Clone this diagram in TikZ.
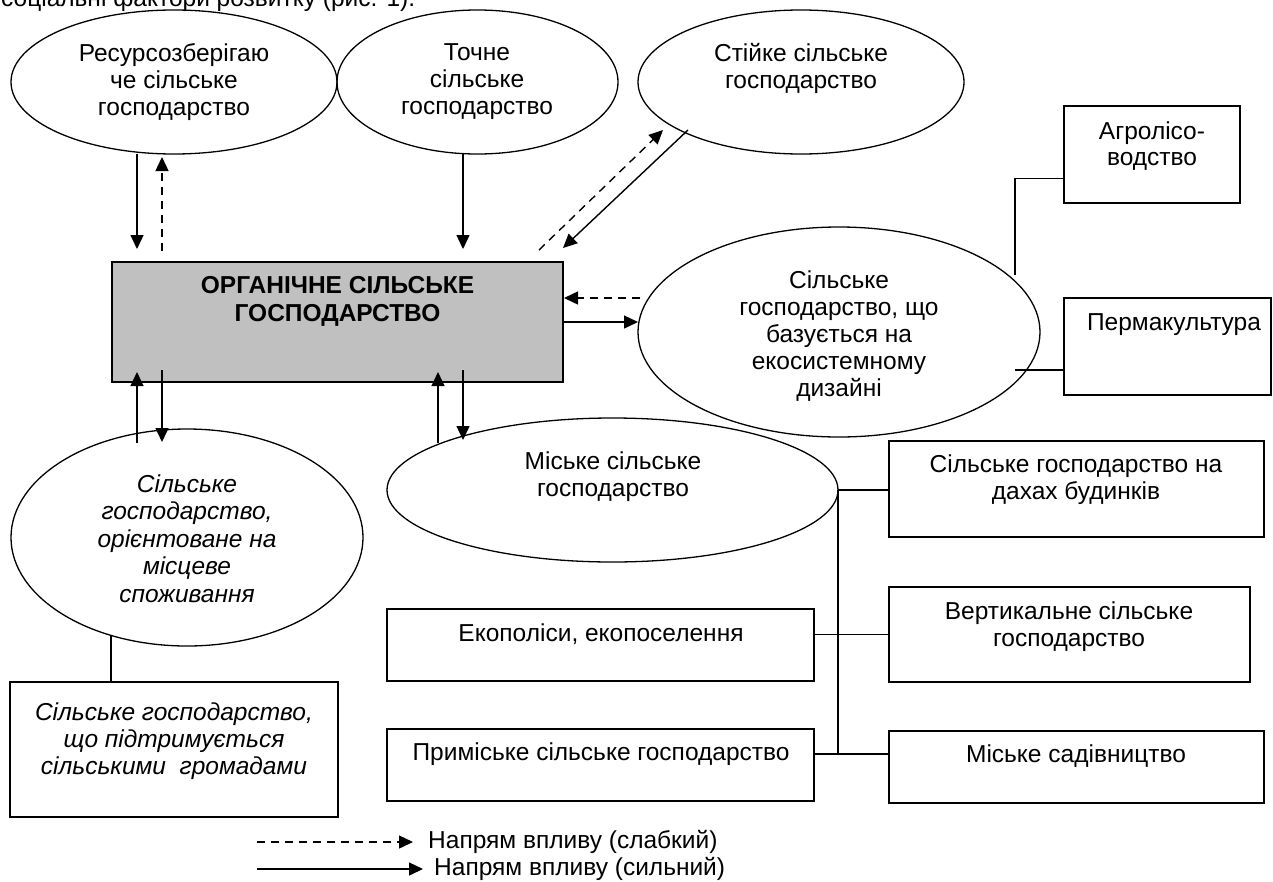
\documentclass[tikz,border=0pt]{standalone}
\usepackage{fontspec}
\setmainfont{Liberation Sans}
\usetikzlibrary{shapes.geometric,arrows.meta,calc}
\begin{document}
\begin{tikzpicture}[x=1pt,y=-1pt,
  ell/.style={draw,ellipse,line width=1.3pt,inner sep=0pt,outer sep=0pt},
  bx/.style={draw,rectangle,line width=1.7pt,inner sep=0pt,outer sep=0pt},
  txt/.style={align=center,inner sep=0pt,font=\fontsize{24.5}{27}\selectfont},
  conn/.style={line width=1.4pt},
  strong/.style={line width=1.4pt,-{Triangle[width=13pt,length=14pt]}},
  weak/.style={strong,dash pattern=on 8pt off 6pt},
]
\useasboundingbox (0,0) rectangle (1273,881);
\clip (0,0) rectangle (1273,881);
\fill[white] (0,0) rectangle (1273,881);

% cut-off caption line at the top
\node[txt,anchor=base west] (cap) at (1,6) {соціальні фактори розвитку (рис. 1).};

% ellipses
\node[ell,minimum width=326pt,minimum height=144pt] (e1) at (174,82) {};
\node[ell,minimum width=281pt,minimum height=144pt] (e2) at (477.5,82) {};
\node[ell,minimum width=326pt,minimum height=144pt] (e3) at (801,82) {};
\node[ell,minimum width=402pt,minimum height=210pt] (e4) at (839,332) {};
\node[ell,minimum width=352pt,minimum height=217pt] (e5) at (187,537.5) {};
\node[ell,minimum width=451pt,minimum height=144pt] (e6) at (612.5,490) {};

% boxes
\node[bx,fill={rgb,255:red,192;green,192;blue,192},minimum width=451pt,minimum height=120pt] (box) at (337.5,322) {};
\node[bx,minimum width=176pt,minimum height=97pt] (agro) at (1152,154.5) {};
\node[bx,minimum width=207pt,minimum height=97pt] (perm) at (1167.5,346.5) {};
\node[bx,minimum width=375pt,minimum height=96pt] (roof) at (1076.5,489) {};
\node[bx,minimum width=361pt,minimum height=95pt] (vert) at (1069.5,634.5) {};
\node[bx,minimum width=427pt,minimum height=72pt] (eko) at (600.5,645) {};
\node[bx,minimum width=427pt,minimum height=72pt] (prim) at (600.5,765) {};
\node[bx,minimum width=375pt,minimum height=72pt] (sad) at (1076.5,767) {};
\node[bx,minimum width=328pt,minimum height=135pt] (csa) at (174,749.5) {};

% texts
\node[txt] (t1) at (174,82) {Ресурсозберігаю\\че сільське\\господарство};
\node[txt] (t2) at (477,82) {Точне\\сільське\\господарство};
\node[txt] (t3) at (801,68.5) {Стійке сільське\\господарство};
\node[txt] (t4) at (839,336) {Сільське\\господарство, що\\базується на\\екосистемному\\дизайні};
\node[txt,font=\fontsize{24.5}{27.5}\selectfont\itshape] (t5) at (187,538.5) {Сільське\\господарство,\\орієнтоване на\\місцеве\\споживання};
\node[txt] (t6) at (613,476.5) {Міське сільське\\господарство};
\node[txt,font=\fontsize{24.5}{28}\selectfont\bfseries] (tb) at (337.5,301) {ОРГАНІЧНЕ СІЛЬСЬКЕ\\ГОСПОДАРСТВО};
\node[txt,font=\fontsize{24.5}{26}\selectfont] (ta) at (1152,146) {Агролісо-\\водство};
\node[txt] (tp) at (1174,325) {Пермакультура};
\node[txt] (tr) at (1076,480) {Сільське господарство на\\дахах будинків};
\node[txt] (tv) at (1069,626.5) {Вертикальне сільське\\господарство};
\node[txt] (te) at (601,634) {Екополіси, екопоселення};
\node[txt] (tpr) at (601,754) {Приміське сільське господарство};
\node[txt] (ts) at (1076,756) {Міське садівництво};
\node[txt,font=\fontsize{24.5}{27}\selectfont\itshape] (tc) at (174,741.5) {Сільське господарство,\\що підтримується\\сільськими\ \ громадами};

% guide x positions
\coordinate (xa) at (137,0);
\coordinate (xb) at (162,0);
\coordinate (xc) at (463,0);
\coordinate (xd) at (438,0);

% arrows
\draw[strong] (e1.south -| xa) -- ($(box.north -| xa)+(0,-13)$);
\draw[weak] ($(box.north -| xb)+(0,-11)$) -- ($(e1.south -| xb)+(0,3)$);
\draw[strong] (e2.south -| xc) -- ($(box.north -| xc)+(0,-13)$);
\draw[weak] ($(box.north east)+(-24,-12)$) -- ($(e3.center)+(-138,48)$);
\draw[strong] ($(e3.center)+(-113,48)$) -- ($(box.north east)+(0,-14)$);
\draw[weak] ($(e4.west)+(2,-34)$) -- ($(box.east)+(1,-24)$);
\draw[strong] (box.east) -- (box.east -| e4.west);
\draw[strong] ($(e5.north -| xa)+(0,14)$) -- ($(box.south -| xa)+(0,-10)$);
\draw[strong] ($(box.south -| xb)+(0,-12)$) -- ($(e5.north -| xb)+(0,13)$);
\draw[strong] ($(e6.north -| xd)+(0,25)$) -- ($(box.south -| xd)+(0,-10)$);
\draw[strong] ($(box.south -| xc)+(0,-12)$) -- ($(e6.north -| xc)+(0,22)$);

% plain connectors
\draw[conn] ($(e4.center)+(176,-57)$) |- ($(agro.west)+(0,24)$);
\draw[conn] ($(perm.west)+(0,23.5)$) -- ++(-49,0);
\draw[conn] ($(csa.north)+(-63,0)$) -- ++(0,-47);
\draw[conn] (e6.east) -- (e6.east -| roof.west);
\draw[conn] (e6.east) -- ($(prim.east -| e6.east)+(0,-11)$);
\draw[conn] (eko.east |- vert.west) -- (vert.west);
\draw[conn] ($(prim.east)+(0,-11)$) -- ($(prim.east -| sad.west)+(0,-11)$);

% legend
\node[txt,anchor=west] (lw) at (428,842) {Напрям впливу (слабкий)};
\node[txt,anchor=west] (ls) at (434,869) {Напрям впливу (сильний)};
\coordinate (lw0) at (257,842);
\coordinate (ls0) at (257,869);
\draw[weak] (lw0) -- ($(lw.west)+(-15,0)$);
\draw[strong] (ls0) -- ($(ls.west)+(-11,0)$);
\end{tikzpicture}
\end{document}
